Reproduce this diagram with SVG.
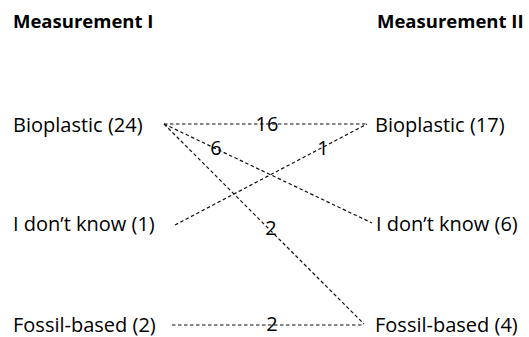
<svg xmlns="http://www.w3.org/2000/svg" width="529" height="337" viewBox="0 0 529 337">
<style>
.t{font-family:"Open Sans","Liberation Sans",sans-serif;font-size:20px;fill:#000}
.h{font-family:"Open Sans","Liberation Sans",sans-serif;font-size:18.5px;font-weight:bold;fill:#000}
.n{font-family:"Open Sans","Liberation Sans",sans-serif;font-size:20px;fill:#000;text-anchor:middle}
.c{stroke:#111;stroke-width:1.2;stroke-dasharray:3.5 2.5;fill:none}
</style>
<rect width="529" height="337" fill="#fff"/>
<g id="headers">
<text class="h" x="13" y="28">Measurement I</text>
<text class="h" x="377" y="28">Measurement II</text>
</g>
<g id="connectors">
<line class="c" x1="164" y1="124" x2="367" y2="124"/>
<line class="c" x1="164" y1="124" x2="372" y2="223"/>
<line class="c" x1="164" y1="124" x2="364" y2="324"/>
<line class="c" x1="175" y1="225" x2="367" y2="124"/>
<line class="c" x1="172" y1="325" x2="364" y2="325"/>
<text class="n" x="267" y="131">16</text>
<text class="n" x="216" y="155">6</text>
<text class="n" x="323" y="155">1</text>
<text class="n" x="271" y="235">2</text>
<text class="n" x="272" y="331">2</text>
</g>
<g id="m1-bioplastic"><text class="t" x="13" y="132">Bioplastic (24)</text></g>
<g id="m1-idk"><text class="t" x="13" y="231">I don’t know (1)</text></g>
<g id="m1-fossil"><text class="t" x="13" y="332">Fossil-based (2)</text></g>
<g id="m2-bioplastic"><text class="t" x="375" y="132">Bioplastic (17)</text></g>
<g id="m2-idk"><text class="t" x="376" y="231">I don’t know (6)</text></g>
<g id="m2-fossil"><text class="t" x="375" y="332">Fossil-based (4)</text></g>
</svg>
